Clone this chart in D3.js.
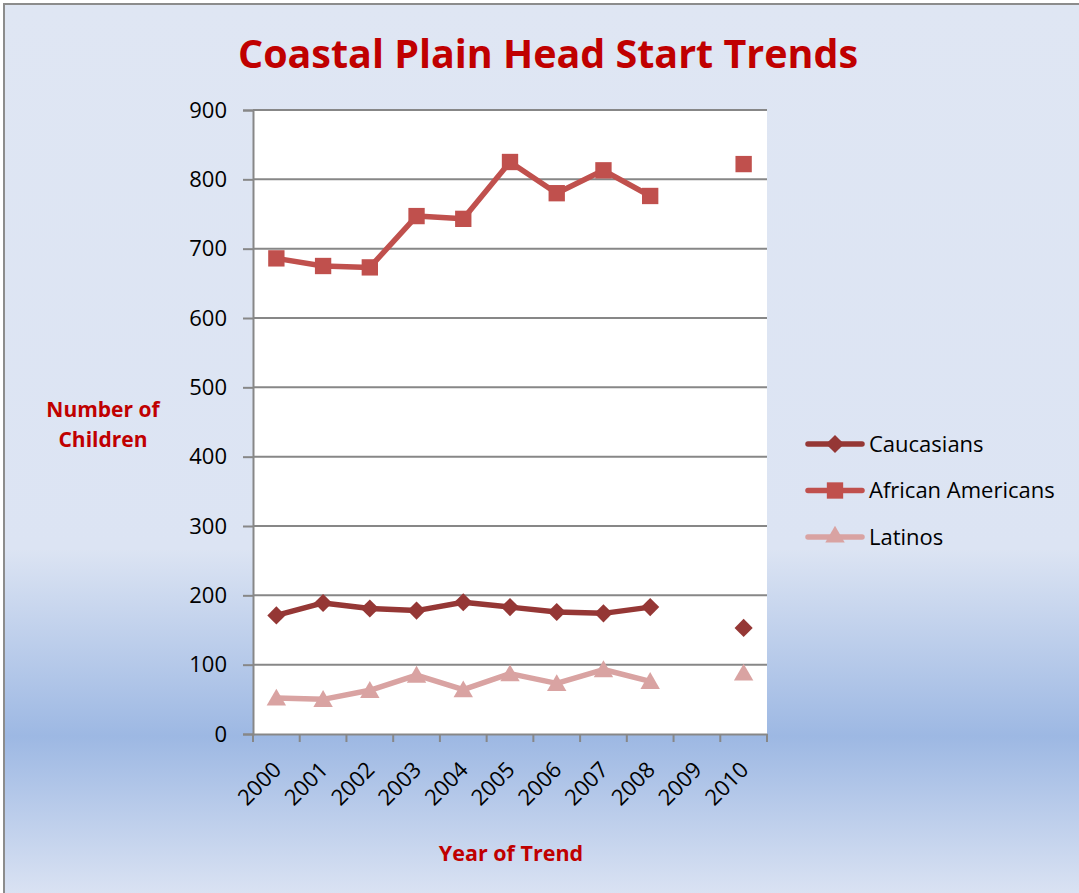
<!DOCTYPE html>
<html><head><meta charset="utf-8">
<script src="https://cdn.jsdelivr.net/npm/d3@7/dist/d3.min.js"></script>
<style>html,body{margin:0;padding:0;background:#fff;}svg{display:block;}</style>
</head><body>
<script>
const years = ["2000","2001","2002","2003","2004","2005","2006","2007","2008","2009","2010"];
const caucasians = [171, 189, 181, 178, 190, 183, 176, 174, 183, null, 153];
const africanAmericans = [686, 675, 673, 747, 743, 825, 780, 813, 776, null, 822];
const latinos = [52, 50, 63, 85, 64, 87, 73, 93, 76, null, 88];
const yTicks = [0, 100, 200, 300, 400, 500, 600, 700, 800, 900];
const seriesNames = ["Caucasians", "African Americans", "Latinos"];
const seriesColors = ["#953735", "#c0504d", "#d9a3a2"];
const seriesShapes = ["diamond", "square", "triangle"];

(function(){
const W = 1079, H = 893;
const FONT = "'Open Sans', 'Noto Sans', sans-serif";
const svg = d3.select("body").append("svg").attr("width", W).attr("height", H);
const defs = svg.append("defs");
const g = defs.append("linearGradient").attr("id","bg").attr("x1",0).attr("y1",0).attr("x2",0).attr("y2",1);
g.append("stop").attr("offset","0").attr("stop-color","#dfe6f3");
g.append("stop").attr("offset","0.61").attr("stop-color","#dce4f3");
g.append("stop").attr("offset","0.82").attr("stop-color","#9db8e3");
g.append("stop").attr("offset","1").attr("stop-color","#dbe3f3");

svg.append("rect").attr("x",4).attr("y",4).attr("width",W).attr("height",H)
  .attr("fill","url(#bg)").attr("stroke","#8c8c8c").attr("stroke-width",2);

const pL = 253, pR = 767, pT = 110, pB = 734;
const x = d3.scaleBand().domain(years).range([pL, pR]);
const y = d3.scaleLinear().domain([0, 900]).range([pB, pT]);

svg.append("rect").attr("x",pL).attr("y",pT).attr("width",pR-pL).attr("height",pB-pT).attr("fill","#fff");

svg.append("g").selectAll("line").data(yTicks.filter(d=>d>0)).join("line")
  .attr("x1",pL).attr("x2",pR).attr("y1",d=>y(d)).attr("y2",d=>y(d))
  .attr("stroke","#878787").attr("stroke-width",2);

const yAxis = svg.append("g").attr("transform",`translate(${pL},0)`)
  .call(d3.axisLeft(y).tickValues(yTicks).tickSize(10).tickPadding(16));
yAxis.select(".domain").attr("stroke","#878787").attr("stroke-width",2);
yAxis.selectAll(".tick line").attr("stroke","#878787").attr("stroke-width",2);
yAxis.selectAll("text").attr("font-family",FONT).attr("font-size",22).attr("fill","#000");

const xAxis = svg.append("g").attr("transform",`translate(0,${pB})`)
  .call(d3.axisBottom(x).tickSize(0).tickFormat(""));
xAxis.select(".domain").attr("stroke","#878787").attr("stroke-width",2);
const bounds = years.map(d=>x(d)).concat([pR]);
xAxis.append("g").selectAll("line").data(bounds).join("line")
  .attr("x1",d=>d).attr("x2",d=>d).attr("y1",0).attr("y2",8)
  .attr("stroke","#878787").attr("stroke-width",2);
xAxis.append("g").selectAll("text").data(years).join("text")
  .attr("transform",d=>`translate(${x(d)+x.bandwidth()/2-5},${26}) rotate(-45)`)
  .attr("text-anchor","end").attr("dy","0.72em")
  .attr("font-family",FONT).attr("font-size",22).attr("fill","#000")
  .text(d=>d);

const data = [caucasians, africanAmericans, latinos];
const symbolTypes = {diamond: d3.symbolDiamond2, square: d3.symbolSquare2, triangle: d3.symbolTriangle2};
const symbolSizes = {diamond: 210, square: 340, triangle: 270};
function sym(shape){ return d3.symbol().type(symbolTypes[shape]).size(symbolSizes[shape])(); }
const cx = d=>x(d)+x.bandwidth()/2;

[2, 0, 1].forEach(i=>{
  const vals = data[i];
  const pts = years.map((yr,j)=>({yr, v: vals[j]}));
  const line = d3.line().defined(d=>d.v!=null).x(d=>cx(d.yr)).y(d=>y(d.v));
  svg.append("path").datum(pts).attr("d",line).attr("fill","none")
    .attr("stroke",seriesColors[i]).attr("stroke-width",5.5).attr("stroke-linejoin","round");
  svg.append("g").selectAll("path").data(pts.filter(d=>d.v!=null)).join("path")
    .attr("transform",d=>`translate(${cx(d.yr)},${y(d.v) + (seriesShapes[i]==="triangle"?2:0)})`)
    .attr("d",sym(seriesShapes[i])).attr("fill",seriesColors[i]);
});

svg.append("text").attr("x",548).attr("y",68).attr("text-anchor","middle")
  .attr("font-family",FONT).attr("font-weight","bold")
  .attr("font-size",39).attr("fill","#c00000")
  .attr("textLength",620).attr("lengthAdjust","spacingAndGlyphs")
  .text("Coastal Plain Head Start Trends");

const yt = svg.append("text").attr("text-anchor","middle")
  .attr("font-family",FONT).attr("font-weight","bold")
  .attr("font-size",21).attr("fill","#c00000");
yt.append("tspan").attr("x",103).attr("y",417).text("Number of");
yt.append("tspan").attr("x",103).attr("y",447).text("Children");

svg.append("text").attr("x",511).attr("y",861).attr("text-anchor","middle")
  .attr("font-family",FONT).attr("font-weight","bold")
  .attr("font-size",21.5).attr("fill","#c00000").text("Year of Trend");

const leg = svg.append("g");
seriesNames.forEach((name,i)=>{
  const ly = 444 + i*46.5;
  leg.append("line").attr("x1",808).attr("x2",862).attr("y1",ly).attr("y2",ly)
    .attr("stroke",seriesColors[i]).attr("stroke-width",5.5).attr("stroke-linecap","round");
  leg.append("path").attr("transform",`translate(835,${ly})`).attr("d",sym(seriesShapes[i])).attr("fill",seriesColors[i]);
  leg.append("text").attr("x",869).attr("y",ly).attr("dy","0.36em")
    .attr("font-family",FONT).attr("font-size",22).attr("fill","#000")
    .text(name);
});
})();
</script>
</body></html>
